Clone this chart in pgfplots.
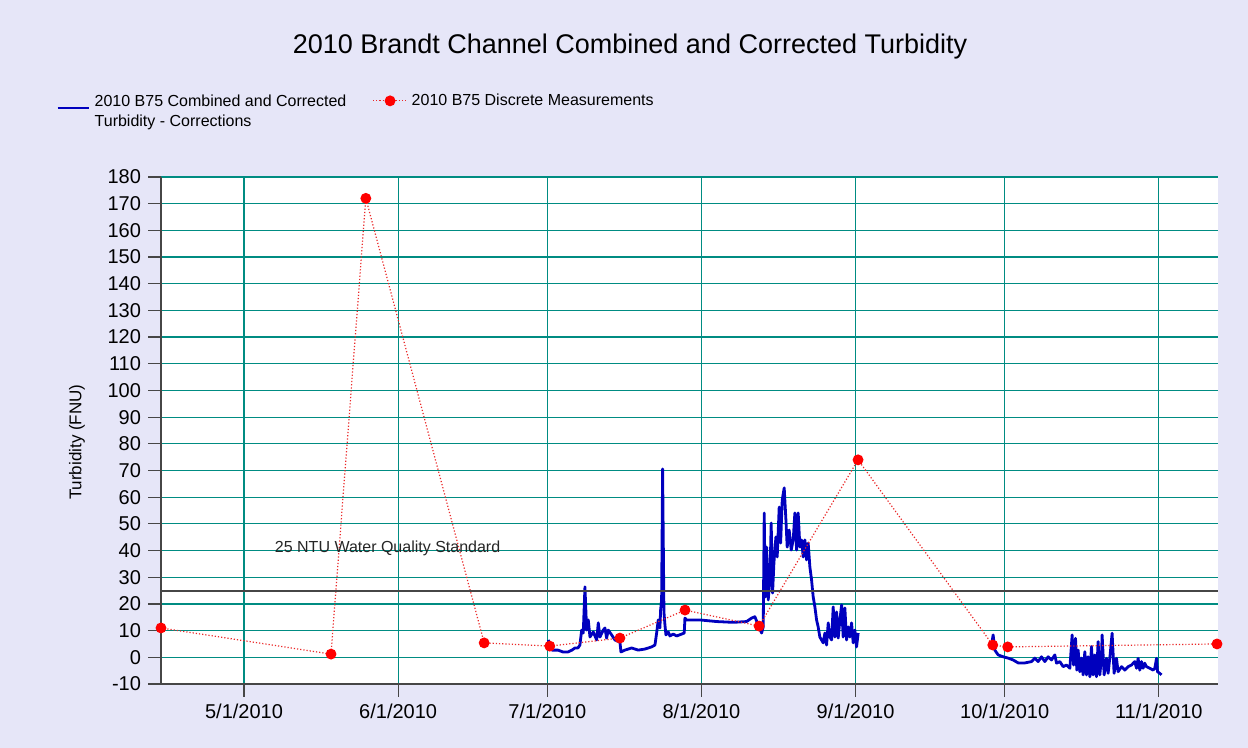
\documentclass[border=0pt]{standalone}
\usepackage{fontspec}
\setmainfont{Liberation Sans}
\usepackage{pgfplots}
\usepackage{pgfplotstable}
\pgfplotsset{compat=1.18}
\definecolor{bglav}{RGB}{230,230,248}
\definecolor{gridteal}{RGB}{0,140,130}
\definecolor{dblue}{RGB}{0,0,190}
\definecolor{axgray}{RGB}{70,70,70}
\definecolor{dred}{RGB}{235,40,40}
\pgfplotstableread{
x y
-16.7 11
17.5 1.2
24.5 172
48.3 5.4
61.5 4.2
75.6 7.2
88.7 17.7
103.6 11.7
123.5 74
150.6 4.6
153.6 3.9
195.7 5
}\discrete
\pgfplotstableread{
x y
61.19 6.5
61.93 2.7
63.14 2.7
64.15 2.0
65.15 2.0
65.96 2.7
66.56 3.5
67.16 3.5
67.56 4.6
67.91 10.2
68.23 9.1
68.57 26.4
68.91 10.2
69.24 14.0
69.58 7.6
70.24 9.5
70.93 6.5
71.25 12.9
71.59 7.6
72.25 10.2
72.59 11.0
72.93 7.2
73.26 10.2
73.94 8.4
74.60 6.5
75.61 5.7
75.81 2.0
76.61 2.7
77.96 3.5
79.29 2.7
80.64 3.1
81.98 3.9
82.65 4.6
82.99 9.1
83.31 14.0
83.65 11.0
83.79 17.7
83.99 21.5
84.19 70.6
84.46 17.0
84.66 12.1
84.86 8.4
85.32 9.5
85.66 8.0
86.33 8.7
87.01 8.0
88.02 8.7
88.54 9.1
88.68 14.7
89.02 14.0
91.70 14.0
95.05 13.4
98.39 13.1
101.08 13.4
102.09 14.7
102.75 15.2
103.42 12.1
104.10 9.1
104.43 11.4
104.63 54.1
104.83 22.6
105.11 41.3
105.43 21.5
105.77 29.0
106.03 50.3
106.31 24.1
106.58 35.4
106.98 45.1
107.24 37.6
107.64 56.3
107.93 42.8
108.25 59.0
108.65 63.5
108.99 51.5
109.25 41.3
109.65 47.7
110.06 40.2
110.46 44.0
110.79 54.1
111.14 40.2
111.46 54.1
111.80 41.3
112.14 44.0
112.47 37.6
112.81 44.0
113.15 36.5
113.47 42.8
113.81 33.9
114.15 29.0
114.48 22.6
114.82 18.9
115.16 14.0
115.48 11.4
115.82 7.6
116.49 5.4
116.83 9.1
117.17 4.6
117.50 12.9
117.84 7.6
118.18 6.5
118.50 18.9
118.85 7.6
119.18 17.0
119.51 7.2
119.85 14.0
120.19 19.6
120.51 7.6
120.85 18.5
121.19 6.5
121.52 11.4
121.86 7.6
122.20 12.9
122.52 5.4
122.86 10.2
123.20 3.9
123.53 9.1
137 nan
150.35 4.6
150.67 8.4
151.01 2.7
151.68 0.9
152.68 0.2
153.69 -0.3
154.69 -1.0
155.70 -2.1
157.05 -2.1
158.39 -1.6
159.06 -0.3
159.72 -1.6
160.40 0.2
161.07 -1.6
161.73 0.2
162.41 -1.0
163.08 0.9
163.42 -2.2
164.09 -1.6
164.75 -3.5
165.43 -2.9
166.10 -4.1
166.56 8.4
166.85 -2.9
167.24 7.1
167.50 -4.8
167.77 2.7
168.11 -5.4
168.45 -0.3
168.77 -6.6
169.11 2.1
169.45 -6.6
169.77 0.2
170.12 -7.3
170.45 4.0
170.78 -6.6
171.12 0.9
171.46 -7.3
171.79 5.9
172.13 -6.6
172.47 0.2
172.59 8.4
173.00 -6.6
173.48 -0.4
173.80 -6.0
174.20 0.9
174.60 9.0
175.00 -6.0
175.48 -0.4
175.81 -5.4
176.49 -3.5
177.16 -4.8
177.82 -3.5
178.50 -2.9
179.16 -1.6
179.51 -4.1
179.83 -0.4
180.17 -4.8
180.51 -1.6
180.83 -4.1
181.17 -2.2
181.51 -3.5
182.18 -4.1
182.85 -4.8
183.19 -4.1
183.53 -0.4
183.73 -5.4
184.19 -6.0
184.53 -6.6
}\continuous
\begin{document}
\begin{tikzpicture}
\useasboundingbox (0,0) rectangle (624pt,374pt);
\fill[bglav] (0,0) rectangle (624pt,374pt);
\node[font=\fontsize{13.5}{16}\selectfont] at (315pt,350.5pt) {2010 Brandt Channel Combined and Corrected Turbidity};
\begin{axis}[
  at={(80.5pt,32pt)}, anchor=south west,
  width=528.5pt, height=253.5pt, scale only axis,
  xmin=-16.7, xmax=195.9, ymin=-10, ymax=180,
  clip=false,
  axis background/.style={fill=white},
  axis x line*=bottom, axis y line*=left,
  axis line style={axgray, line width=0.8pt},
  xtick={0,31,61,92,123,153,184},
  xticklabels={5/1/2010,6/1/2010,7/1/2010,8/1/2010,9/1/2010,10/1/2010,11/1/2010},
  ytick={-10,0,...,180},
  grid=major, major grid style={gridteal, line width=0.6pt},
  tick align=outside, major tick length=6.5pt,
  tick style={axgray, line width=0.6pt},
  tick label style={font=\fontsize{10}{12}\selectfont},
  /pgf/number format/assume math mode=true,
  ylabel={Turbidity (FNU)},
  ylabel style={at={(axis description cs:-0.0795,0.477)}, anchor=center, font=\fontsize{8.5}{10}\selectfont},
  legend style={draw=none, fill=none, at={(-0.105,1.1835)}, anchor=north west,
    font=\fontsize{8}{10}\selectfont, /tikz/column 2/.style={column sep=11pt}},
  legend columns=2, legend cell align=left,
  unbounded coords=jump,
]
\addplot[dblue, line width=1.4pt, line join=round,
  legend image code/.code={\draw[dblue, line width=1.2pt] (0cm,-0.13cm) -- (0.56cm,-0.13cm);}] table {\continuous};
\addlegendentry{{\begin{tabular}[t]{@{}l@{}}2010 B75 Combined and Corrected\\Turbidity - Corrections\end{tabular}}}
\addplot[dred, densely dotted, line width=0.6pt, mark=*, mark size=2.4pt, mark options={solid, fill=red, draw=red}] table {\discrete};
\addlegendentry{2010 B75 Discrete Measurements}
\addplot[axgray, line width=1pt, forget plot] coordinates {(-16.7,25) (195.9,25)};
\node[anchor=west, font=\fontsize{8}{10}\selectfont, text=black!85] at (axis cs:4.8,41) {25 NTU Water Quality Standard};
\end{axis}
\end{tikzpicture}
\end{document}
